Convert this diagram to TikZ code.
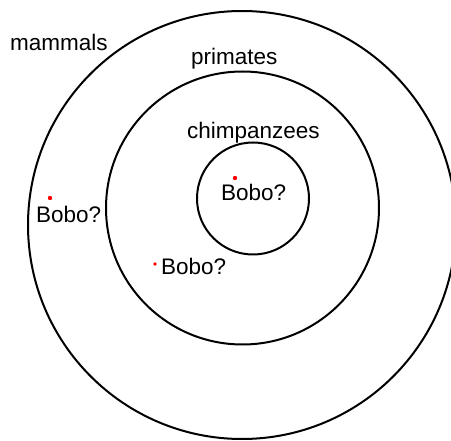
\documentclass[tikz,border=0pt]{standalone}
\usepackage{fontspec}
\setmainfont{Liberation Sans}
\begin{document}
\begin{tikzpicture}[x=1pt,y=-1pt,
  ring/.style={draw=black,line width=2pt},
  lbl/.style={inner sep=0pt,anchor=base west,font=\fontsize{22.5}{26}\selectfont},
  reddot/.style={fill=red,draw=none}]
\useasboundingbox (0,0) rectangle (451,441);
\clip (0,0) rectangle (451,441);
\fill[white] (0,0) rectangle (451,441);
\draw[ring] (242,225) circle[radius=214];
\draw[ring] (242.5,208) circle[radius=136.5];
\draw[ring] (253,198.5) circle[radius=56];
\node[lbl] (mam) at (10,51) {mammals};
\node[lbl] (pri) at (191,65) {primates};
\node[lbl] (chi) at (187,139) {chimpanzees};
\node[lbl] (b1) at (221,201) {Bobo?};
\node[lbl] (b2) at (36,223) {Bobo?};
\node[lbl] (b3) at (161,275) {Bobo?};
\fill[reddot] (235,178) circle[radius=2.2];
\fill[reddot] (50,198) circle[radius=2.2];
\fill[reddot] (155,264) circle[radius=1.8];
\end{tikzpicture}
\end{document}
